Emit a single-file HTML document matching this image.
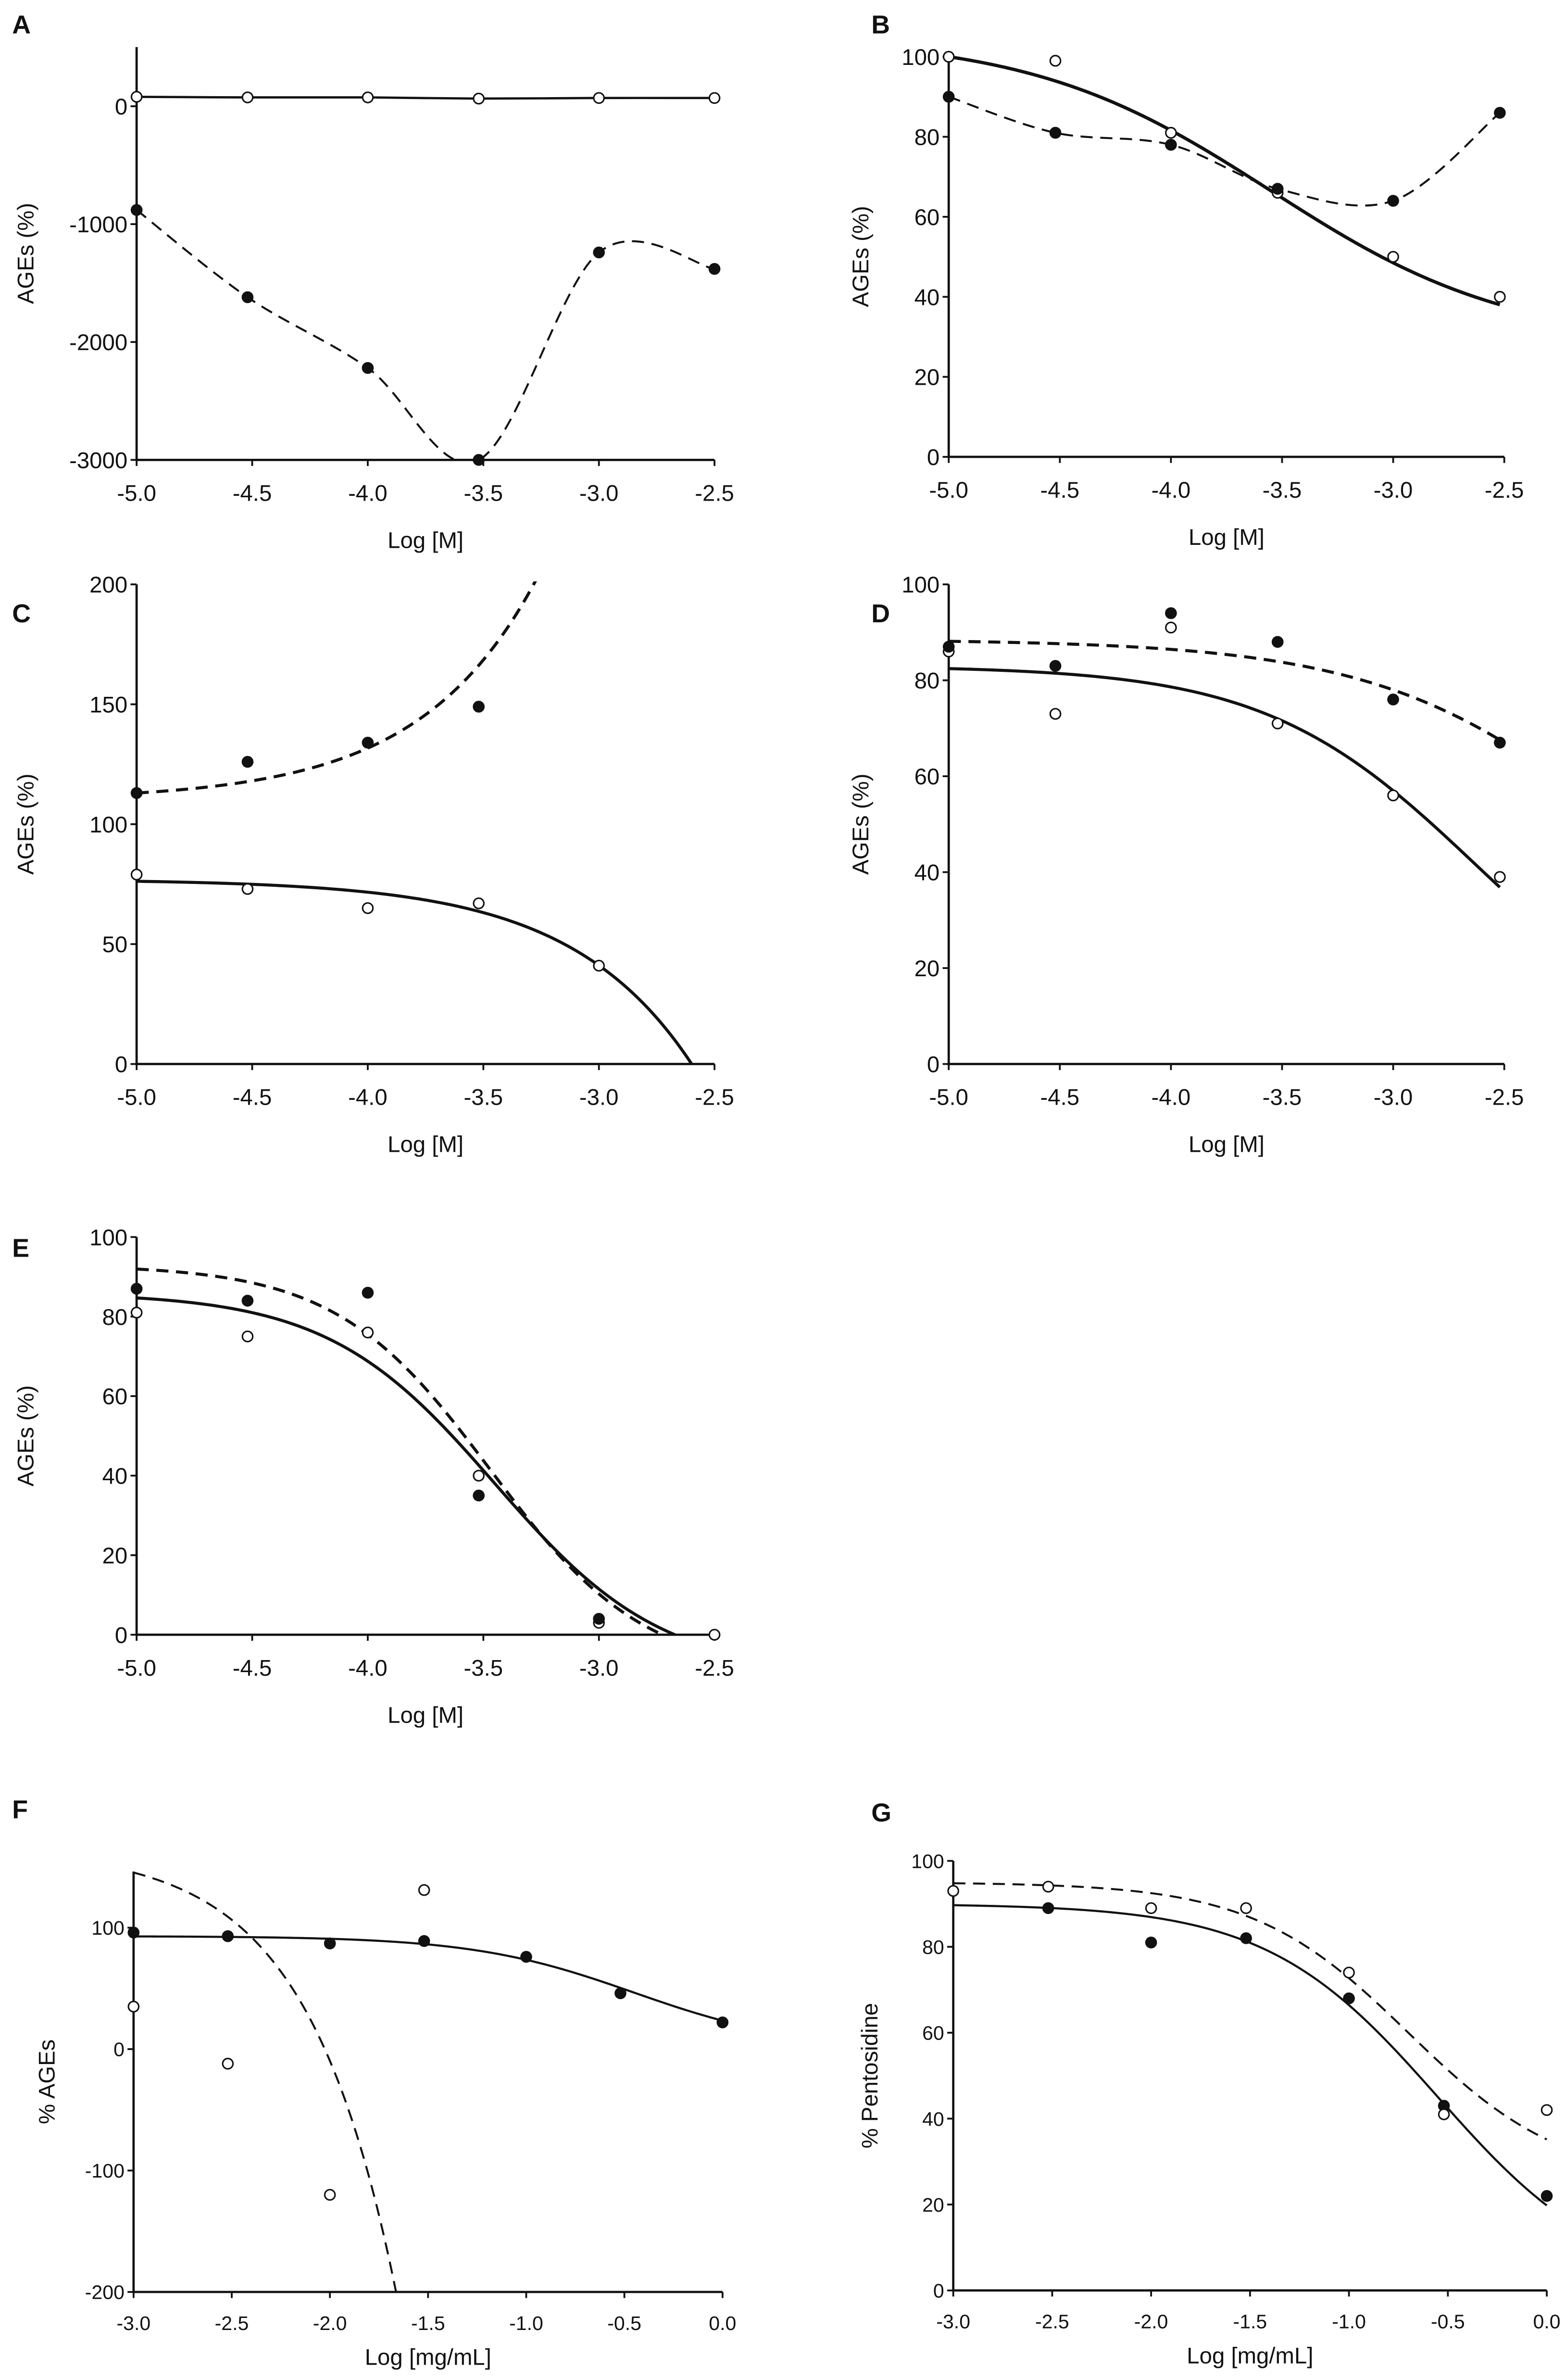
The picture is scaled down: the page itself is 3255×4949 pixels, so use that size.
<!DOCTYPE html>
<html><head><meta charset="utf-8"><style>
html,body{margin:0;padding:0;background:#fff;}
svg{display:block;}
text{font-family:"Liberation Sans Narrow","Liberation Sans",Arial,sans-serif;fill:#111;}
</style></head><body>
<svg id="fig" xmlns="http://www.w3.org/2000/svg" width="3255" height="4949" viewBox="0 0 1031 1568" preserveAspectRatio="none"></svg>
<script>
// ---- data ----
const aX=[-5,-4.52,-4,-3.52,-3,-2.5];
const aOpen=[80,75,75,65,70,70];
const aFilled=[-880,-1620,-2220,-3000,-1240,-1380];
const bX=[-5,-4.52,-4,-3.52,-3,-2.52];
const bOpen=[100,99,81,66,50,40];
const bFilled=[90,81,78,67,64,86];
const cX=[-5,-4.52,-4,-3.52,-3];
const cOpen=[79,73,65,67,41];
const cFilled=[113,126,134,149,null];
const dX=[-5,-4.52,-4,-3.52,-3,-2.52];
const dOpen=[86,73,91,71,56,39];
const dFilled=[87,83,94,88,76,67];
const eX=[-5,-4.52,-4,-3.52,-3,-2.5];
const eOpen=[81,75,76,40,3,0];
const eFilled=[87,84,86,35,4,null];
const fX=[-3,-2.52,-2,-1.52,-1,-0.52,0];
const fOpen=[35,-12,-120,131,null,null,null];
const fFilled=[96,93,87,89,76,46,22];
const gX=[-3,-2.52,-2,-1.52,-1,-0.52,0];
const gOpen=[93,94,89,89,74,41,42];
const gFilled=[null,89,81,82,68,43,22];
// fitted curve parameters
const bOpenFit=[105,28,-3.55,0.8];
const cFilledFit=[110,3,0.86,-5];
const cOpenFit=[77,0.8,0.826,-5];
const dFilledFit=[88.5,0,-1.845,0.754];
const dOpenFit=[83,0,-2.627,0.913];
const eOpenFit=[86,-10,-3.45,1.2];
const eFilledFit=[93,-10,-3.47,1.3];
const fFilledFit=[93,0,-0.45,1.05];
const fOpenFit=[165,19.6,0.95,-3];
const gFilledFit=[90,0,-0.55,1.0];
const gOpenFit=[95,25,-0.7,1.1];
// tick labels
const xTicksM=["-5.0","-4.5","-4.0","-3.5","-3.0","-2.5"];
const xTicksMg=["-3.0","-2.5","-2.0","-1.5","-1.0","-0.5","0.0"];
const aYTicks=[0,-1000,-2000,-3000];
const pctTicks=[0,20,40,60,80,100];
const cYTicks=[0,50,100,150,200];
const fYTicks=[100,0,-100,-200];

const NS="http://www.w3.org/2000/svg";
const svg=document.getElementById('fig');
function el(tag,attrs,parent){const e=document.createElementNS(NS,tag);for(const k in attrs)e.setAttribute(k,attrs[k]);(parent||svg).appendChild(e);return e;}
const hill=(p)=>x=>p[1]+(p[0]-p[1])/(1+Math.pow(10,(x-p[2])*p[3]));
const expUp=(p)=>x=>p[0]+p[1]*Math.pow(10,p[2]*(x-p[3]));
const expDown=(p)=>x=>p[0]-p[1]*Math.pow(10,p[2]*(x-p[3]));

function catmull(pts){
  let d="M"+pts[0][0]+","+pts[0][1];
  for(let i=0;i<pts.length-1;i++){
    const p0=pts[i-1]||pts[i],p1=pts[i],p2=pts[i+1],p3=pts[i+2]||p2;
    const c1=[p1[0]+(p2[0]-p0[0])/6,p1[1]+(p2[1]-p0[1])/6];
    const c2=[p2[0]-(p3[0]-p1[0])/6,p2[1]-(p3[1]-p1[1])/6];
    d+=" C"+c1+" "+c2+" "+p2;
  }
  return d;
}

function panel(o){
  const g=el('g',{});
  
  
  const sx=v=>o.x0+(v-o.xmin)/(o.xmax-o.xmin)*(o.x1-o.x0);
  const sy=v=>o.y0+(v-o.ymin)/(o.ymax-o.ymin)*(o.y1-o.y0);
  const cid='clip'+o.id;
  const cp=el('clipPath',{id:cid},g);
  el('rect',{x:o.x0,y:o.ytop-2,width:o.x1-o.x0+4,height:o.y0-o.ytop+2},cp);
  const lt=el('text',{x:o.lx,y:o.ly,'font-size':17,'font-weight':'bold'},g);
  
  
  lt.textContent=o.id;
  const ax=el('path',{d:`M${o.x0},${o.ytop} V${o.y0} H${o.x1}`,stroke:'#111','stroke-width':1.5,fill:'none'},g);
  
  
  o.xticks.forEach((t,i)=>{
    const v=o.xmin+i*(o.xmax-o.xmin)/(o.xticks.length-1);
    const X=sx(v);
    el('line',{x1:X,x2:X,y1:o.y0,y2:o.y0+4,stroke:'#111','stroke-width':1.2},g);
    const tx=el('text',{x:X,y:o.y0+o.tfs+12,'font-size':o.tfs,'text-anchor':'middle'},g);
    
    
    tx.textContent=t;
  });
  o.yticks.forEach(v=>{
    const Y=sy(v);
    el('line',{x1:o.x0-4,x2:o.x0,y1:Y,y2:Y,stroke:'#111','stroke-width':1.2},g);
    const ty=el('text',{x:o.x0-6,y:Y+o.tfs*0.36,'font-size':o.tfs,'text-anchor':'end'},g);
    
    
    ty.textContent=v;
  });
  const xt=el('text',{x:(o.x0+o.x1)/2,y:o.y0+o.xlo,'font-size':15,'text-anchor':'middle'},g);
  
  
  xt.textContent=o.xlabel;
  const ycy=(o.ytop+o.y0)/2;
  const yt=el('text',{x:o.ylx,y:ycy,'font-size':15,'text-anchor':'middle',transform:`rotate(-90 ${o.ylx} ${ycy})`},g);
  
  
  yt.textContent=o.ylabel;
  const cg=el('g',{'clip-path':`url(#${cid})`},g);
  o.series.forEach(s=>{
    let d;
    if(s.fit){
      const pts=[];
      for(let i=0;i<=150;i++){const x=s.from+(s.to-s.from)*i/150;pts.push([sx(x).toFixed(2),sy(s.fit(x)).toFixed(2)]);}
      d="M"+pts.map(p=>p.join(",")).join(" L");
    } else {
      const pts=[];s.xs.forEach((x,i)=>{if(s.ys[i]!=null)pts.push([sx(x),sy(s.ys[i])]);});
      d=catmull(pts);
    }
    const p=el('path',{d:d,fill:'none',stroke:'#111','stroke-width':s.w,'stroke-dasharray':s.dash||'none'},cg);
    
    
  });
  o.series.forEach(s=>{
    s.xs.forEach((x,i)=>{
      const v=s.ys[i]; if(v==null)return;
      const c=el('circle',{cx:sx(x),cy:sy(v),r:3.4,fill:s.open?'#fff':'#111',stroke:'#111','stroke-width':1},g);
      
      
    });
  });
}

const M="Log [M]",MG="Log [mg/mL]";
panel({id:'A',lx:8,ly:22,x0:90,x1:470.7,xmin:-5,xmax:-2.5,y0:303,y1:70,ymin:-3000,ymax:0,ytop:31,
  xticks:xTicksM,yticks:aYTicks,tfs:15,xlabel:M,xlo:58,ylabel:'AGEs (%)',ylx:22,
  series:[{name:'open',xs:aX,ys:aOpen,open:true,w:1.5},
          {name:'filled',xs:aX,ys:aFilled,w:1.3,dash:'8,5'}]});
panel({id:'B',lx:574,ly:22,x0:625,x1:991,xmin:-5,xmax:-2.5,y0:301,y1:37.4,ymin:0,ymax:100,ytop:37,
  xticks:xTicksM,yticks:pctTicks,tfs:15,xlabel:M,xlo:58,ylabel:'AGEs (%)',ylx:572,
  series:[{name:'open',xs:bX,ys:bOpen,open:true,w:2.2,fit:hill(bOpenFit),from:-5,to:-2.52},
          {name:'filled',xs:bX,ys:bFilled,w:1.3,dash:'8,5'}]});
panel({id:'C',lx:8,ly:410,x0:90,x1:470.7,xmin:-5,xmax:-2.5,y0:701,y1:385,ymin:0,ymax:200,ytop:385,
  xticks:xTicksM,yticks:cYTicks,tfs:15,xlabel:M,xlo:58,ylabel:'AGEs (%)',ylx:22,
  series:[{name:'open',xs:cX,ys:cOpen,open:true,w:2,fit:expDown(cOpenFit),from:-5,to:-2.55},
          {name:'filled',xs:cX,ys:cFilled,w:2,dash:'8,5',fit:expUp(cFilledFit),from:-5,to:-3.25}]});
panel({id:'D',lx:574,ly:410,x0:625,x1:991,xmin:-5,xmax:-2.5,y0:701,y1:385,ymin:0,ymax:100,ytop:385,
  xticks:xTicksM,yticks:pctTicks,tfs:15,xlabel:M,xlo:58,ylabel:'AGEs (%)',ylx:572,
  series:[{name:'open',xs:dX,ys:dOpen,open:true,w:2,fit:hill(dOpenFit),from:-5,to:-2.52},
          {name:'filled',xs:dX,ys:dFilled,w:2,dash:'8,5',fit:hill(dFilledFit),from:-5,to:-2.52}]});
panel({id:'E',lx:8,ly:828,x0:90,x1:470.7,xmin:-5,xmax:-2.5,y0:1077,y1:815,ymin:0,ymax:100,ytop:815,
  xticks:xTicksM,yticks:pctTicks,tfs:15,xlabel:M,xlo:58,ylabel:'AGEs (%)',ylx:22,
  series:[{name:'open',xs:eX,ys:eOpen,open:true,w:2,fit:hill(eOpenFit),from:-5,to:-2.6},
          {name:'filled',xs:eX,ys:eFilled,w:2,dash:'8,5',fit:hill(eFilledFit),from:-5,to:-2.6}]});
panel({id:'F',lx:8,ly:1198,x0:88,x1:476,xmin:-3,xmax:0,y0:1510,y1:1350,ymin:-200,ymax:0,ytop:1233,
  xticks:xTicksMg,yticks:fYTicks,tfs:13,xlabel:MG,xlo:48,ylabel:'% AGEs',ylx:36,
  series:[{name:'filled',xs:fX,ys:fFilled,w:1.4,fit:hill(fFilledFit),from:-3,to:0},
          {name:'open',xs:fX,ys:fOpen,open:true,w:1.3,dash:'8,5',fit:expDown(fOpenFit),from:-3,to:-1.6}]});
panel({id:'G',lx:574,ly:1200,x0:628,x1:1019,xmin:-3,xmax:0,y0:1509,y1:1226,ymin:0,ymax:100,ytop:1226,
  xticks:xTicksMg,yticks:pctTicks,tfs:13,xlabel:MG,xlo:48,ylabel:'% Pentosidine',ylx:578,
  series:[{name:'filled',xs:gX,ys:gFilled,w:1.4,fit:hill(gFilledFit),from:-3,to:0},
          {name:'open',xs:gX,ys:gOpen,open:true,w:1.3,dash:'8,5',fit:hill(gOpenFit),from:-3,to:0}]});
</script>
</body></html>
